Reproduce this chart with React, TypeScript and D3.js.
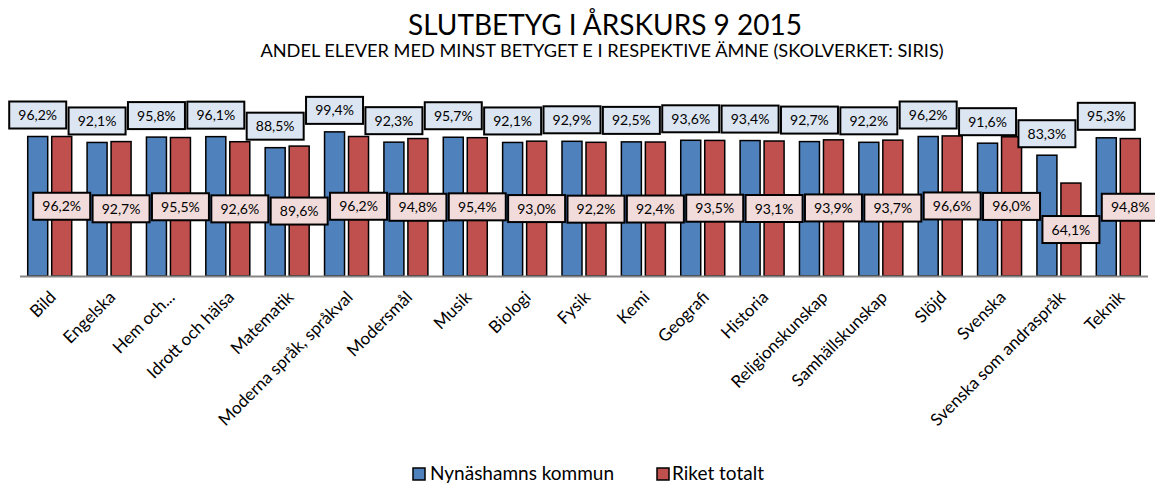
import React from "react";
import * as d3 from "d3";

const categories = [
  "Bild", "Engelska", "Hem och...", "Idrott och hälsa", "Matematik",
  "Moderna språk, språkval", "Modersmål", "Musik", "Biologi", "Fysik",
  "Kemi", "Geografi", "Historia", "Religionskunskap", "Samhällskunskap",
  "Slöjd", "Svenska", "Svenska som andraspråk", "Teknik",
];
const nynashamn = [96.2, 92.1, 95.8, 96.1, 88.5, 99.4, 92.3, 95.7, 92.1, 92.9, 92.5, 93.6, 93.4, 92.7, 92.2, 96.2, 91.6, 83.3, 95.3];
const riket = [96.2, 92.7, 95.5, 92.6, 89.6, 96.2, 94.8, 95.4, 93.0, 92.2, 92.4, 93.5, 93.1, 93.9, 93.7, 96.6, 96.0, 64.1, 94.8];
const seriesNames = ["Nynäshamns kommun", "Riket totalt"];
const title = "SLUTBETYG I ÅRSKURS 9 2015";
const subtitle = "ANDEL ELEVER MED MINST BETYGET E I RESPEKTIVE ÄMNE (SKOLVERKET: SIRIS)";

const W = 1155;
const H = 484;
const FONT = "Lato, 'Open Sans', sans-serif";
const BLUE = "#4F81BD";
const RED = "#C0504D";
const BLUE_LBL = "#DCE6F2";
const RED_LBL = "#F2DCDB";

const fmt = (v: number) => v.toFixed(1).replace(".", ",") + "%";

export default function App() {
  const x = d3.scaleBand<string>().domain(categories).range([20, 1148]).paddingInner(0.259).paddingOuter(0.13);
  const xs = d3.scaleBand<string>().domain(["n", "r"]).range([0, x.bandwidth()]).paddingInner(0.1667);
  const y = d3.scaleLinear().domain([0, 100]).range([276, 131]);
  const bw = xs.bandwidth();
  const boxW = 57;
  const boxH = 27;

  return (
    <svg width={W} height={H} style={{ position: "absolute", left: 0, top: 0, background: "#fff" }} fontFamily={FONT}>
      <rect x={0} y={0} width={W} height={H} fill="#fff" />
      <text x={605} y={35} textAnchor="middle" fontSize={28} fill="#000">{title}</text>
      <text x={602} y={57} textAnchor="middle" fontSize={18.2} fill="#000">{subtitle}</text>

      {categories.map((c, i) => {
        const x0 = x(c)!;
        return (
          <g key={c}>
            <rect x={x0 + xs("n")!} y={y(nynashamn[i])} width={bw} height={y(0) - y(nynashamn[i])} fill={BLUE} stroke="#000" strokeWidth={1.5} />
            <rect x={x0 + xs("r")!} y={y(riket[i])} width={bw} height={y(0) - y(riket[i])} fill={RED} stroke="#000" strokeWidth={1.5} />
          </g>
        );
      })}

      <line x1={20} x2={1148} y1={276.5} y2={276.5} stroke="#868686" strokeWidth={2} />

      {categories.map((c, i) => {
        const cx = x(c)! + xs("n")! + bw / 2;
        const top = y(nynashamn[i]);
        return (
          <g key={"bl" + c}>
            <rect x={cx - boxW / 2} y={top - 8 - boxH} width={boxW} height={boxH} fill={BLUE_LBL} stroke="#000" strokeWidth={2} />
            <text x={cx} y={top - 8 - boxH / 2} dy="0.36em" textAnchor="middle" fontSize={14} fill="#000">{fmt(nynashamn[i])}</text>
          </g>
        );
      })}
      {categories.map((c, i) => {
        const cx = x(c)! + xs("r")! + bw / 2;
        const cy = (y(riket[i]) + y(0)) / 2;
        return (
          <g key={"rl" + c}>
            <rect x={cx - boxW / 2} y={cy - boxH / 2} width={boxW} height={boxH} fill={RED_LBL} stroke="#000" strokeWidth={2} />
            <text x={cx} y={cy} dy="0.36em" textAnchor="middle" fontSize={14} fill="#000">{fmt(riket[i])}</text>
          </g>
        );
      })}

      {categories.map((c) => {
        const cx = x(c)! + x.bandwidth() / 2;
        return (
          <text key={"cl" + c} transform={`translate(${cx + 3},${294}) rotate(-45)`} dy="0.36em" textAnchor="end" fontSize={17} fill="#000">{c}</text>
        );
      })}

      <g>
        <rect x={413} y={468} width={12} height={12} fill={BLUE} stroke="#000" strokeWidth={1.5} />
        <text x={430} y={480} fontSize={19} fill="#000">{seriesNames[0]}</text>
        <rect x={657} y={468} width={12} height={12} fill={RED} stroke="#000" strokeWidth={1.5} />
        <text x={672} y={480} fontSize={19} fill="#000">{seriesNames[1]}</text>
      </g>
    </svg>
  );
}
